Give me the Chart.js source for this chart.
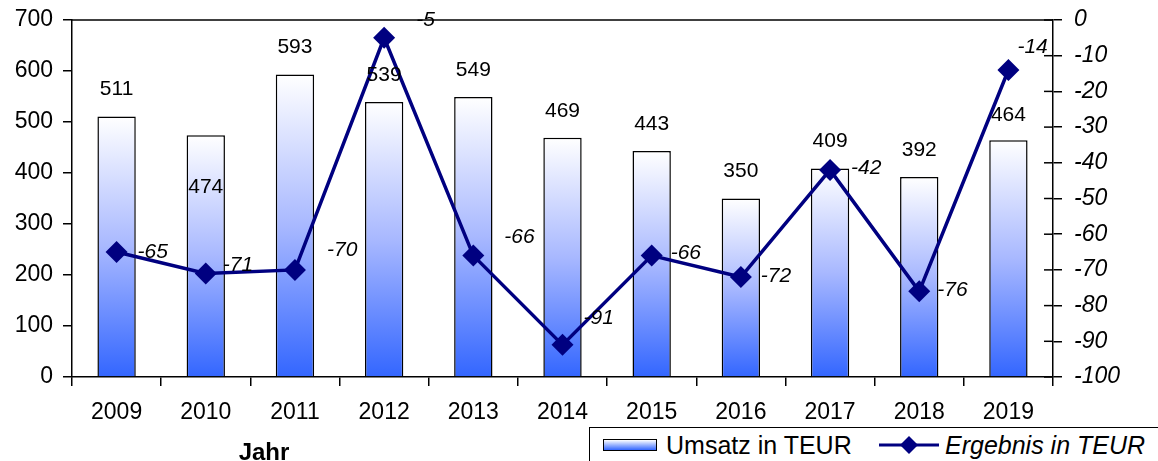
<!DOCTYPE html>
<html>
<head>
<meta charset="utf-8">
<script src="https://cdn.jsdelivr.net/npm/chart.js@4.4.1/dist/chart.umd.min.js"></script>
<style>
  html, body { margin: 0; padding: 0; background: #fff; }
  #wrap { position: relative; width: 1158px; height: 461px; overflow: hidden; font-family: "Liberation Sans", Arial, sans-serif; }
  #legend { position: absolute; left: 589px; top: 427px; width: 600px; height: 40px; border: 1.5px solid #000; background: #fff; font-size: 25px; line-height: 30px; }
  #legend .sw { position: absolute; left: 13px; top: 11px; width: 52px; height: 10px; border: 1.5px solid #000; background: linear-gradient(#ffffff, #3366ff); }
  #legend .t1 { position: absolute; left: 76px; top: 2px; }
  #legend svg { position: absolute; left: 287px; top: 5px; }
  #legend .t2 { position: absolute; left: 355px; top: 2px; font-style: italic; }
</style>
</head>
<body>
<div id="wrap">
  <canvas id="c" width="1158" height="461"></canvas>
  <div id="legend">
    <div class="sw"></div><span class="t1">Umsatz in TEUR</span>
    <svg width="64" height="24"><line x1="2" y1="12" x2="62" y2="12" stroke="#000080" stroke-width="3"/><polygon points="32,3 41,12 32,21 23,12" fill="#000080"/></svg>
    <span class="t2">Ergebnis in TEUR</span>
  </div>
</div>
<script>
// Umsatz (Balken, linke Achse) und Ergebnis (Linie, rechte Achse)
const years = ["2009", "2010", "2011", "2012", "2013", "2014", "2015", "2016", "2017", "2018", "2019"];
const umsatz = [511, 474, 593, 539, 549, 469, 443, 350, 409, 392, 464];
const ergebnis = [-65, -71, -70, -5, -66, -91, -66, -72, -42, -76, -14];

const FONT = "'Liberation Sans', Arial, sans-serif";
const NAVY = "#000080";
const BLUE = "#3366ff";

// label offsets (px) relative to the marks, as placed in the original
const barLabelDy = [-27, 52, -27, -27, -27, -27, -27, -27, -27, -27, -25];
const lineLabelOff = [[21, 0], [17, -8], [32, -20], [32, -18], [31, -18], [21, -27], [19, -2], [20, -1], [21, -2], [18, -1], [9, -23]];

function barFill(ctx) {
  const chart = ctx.chart;
  if (!chart.chartArea || ctx.type !== "data") return BLUE;
  const y = chart.scales.y;
  const top = y.getPixelForValue(ctx.raw);
  const base = y.getPixelForValue(0);
  const g = chart.ctx.createLinearGradient(0, top, 0, base);
  g.addColorStop(0, "#ffffff");
  g.addColorStop(0.5, "#a8b8ff");
  g.addColorStop(1, BLUE);
  return g;
}

// feste Achsbreite, kein Extra-Abstand oben/unten
function fixY(width) {
  return (s) => {
    s.width = width;
    s.paddingTop = 0;
    s.paddingBottom = 0;
  };
}

const extras = {
  id: "extras",
  afterDatasetsDraw(chart) {
    const { ctx, chartArea: a, scales } = chart;
    ctx.save();
    // top border
    ctx.strokeStyle = "#000";
    ctx.lineWidth = 1.5;
    ctx.beginPath();
    ctx.moveTo(a.left, a.top);
    ctx.lineTo(a.right, a.top);
    ctx.stroke();
    // inner half of right axis ticks
    scales.y1.ticks.forEach((t) => {
      const py = scales.y1.getPixelForValue(t.value);
      ctx.beginPath();
      ctx.moveTo(a.right - 9, py);
      ctx.lineTo(a.right, py);
      ctx.stroke();
    });
    // bar labels
    ctx.fillStyle = "#000";
    ctx.font = "21px " + FONT;
    ctx.textAlign = "center";
    ctx.textBaseline = "middle";
    chart.getDatasetMeta(0).data.forEach((bar, i) => {
      ctx.fillText(String(umsatz[i]), bar.x, bar.y + barLabelDy[i]);
    });
    // line labels
    ctx.font = "italic 21px " + FONT;
    ctx.textAlign = "left";
    chart.getDatasetMeta(1).data.forEach((pt, i) => {
      const [dx, dy] = lineLabelOff[i];
      ctx.fillText(String(ergebnis[i]), pt.x + dx, pt.y + dy);
    });
    // axis title
    ctx.font = "bold 24px " + FONT;
    ctx.textAlign = "center";
    ctx.fillText("Jahr", a.left + 192, 453);
    ctx.restore();
  },
};

new Chart(document.getElementById("c"), {
  type: "bar",
  data: {
    labels: years,
    datasets: [
      {
        label: "Umsatz in TEUR",
        data: umsatz,
        yAxisID: "y",
        backgroundColor: barFill,
        borderColor: "#000",
        borderWidth: 1.5,
        barPercentage: 0.43,
        categoryPercentage: 1,
        order: 1,
      },
      {
        type: "line",
        label: "Ergebnis in TEUR",
        data: ergebnis,
        yAxisID: "y1",
        borderColor: NAVY,
        borderWidth: 3.5,
        pointStyle: "rectRot",
        pointRadius: 11,
        pointBackgroundColor: NAVY,
        pointBorderColor: NAVY,
        pointBorderWidth: 0,
        tension: 0,
        order: 0,
      },
    ],
  },
  options: {
    responsive: false,
    animation: false,
    layout: { padding: { top: 20 } },
    plugins: { legend: { display: false }, tooltip: { enabled: false } },
    scales: {
      x: {
        grid: { drawOnChartArea: false, offset: true, tickLength: 9, color: "#000", lineWidth: 1.5 },
        border: { color: "#000", width: 1.5 },
        ticks: { color: "#000", font: { size: 23, family: FONT }, padding: 13, maxRotation: 0 },
        afterFit: (s) => { s.height = 84; },
      },
      y: {
        position: "left",
        min: 0,
        max: 700,
        grid: { drawOnChartArea: false, tickLength: 9, color: "#000", lineWidth: 1.5 },
        border: { color: "#000", width: 1.5 },
        ticks: { stepSize: 100, color: "#000", font: { size: 23, family: FONT }, padding: 10 },
        afterFit: fixY(72),
      },
      y1: {
        position: "right",
        min: -100,
        max: 0,
        grid: { drawOnChartArea: false, tickLength: 9, color: "#000", lineWidth: 1.5 },
        border: { color: "#000", width: 1.5 },
        ticks: { stepSize: 10, color: "#000", font: { size: 23, family: FONT, style: "italic" }, padding: 12 },
        afterFit: fixY(105),
      },
    },
  },
  plugins: [extras],
});
</script>
</body>
</html>
